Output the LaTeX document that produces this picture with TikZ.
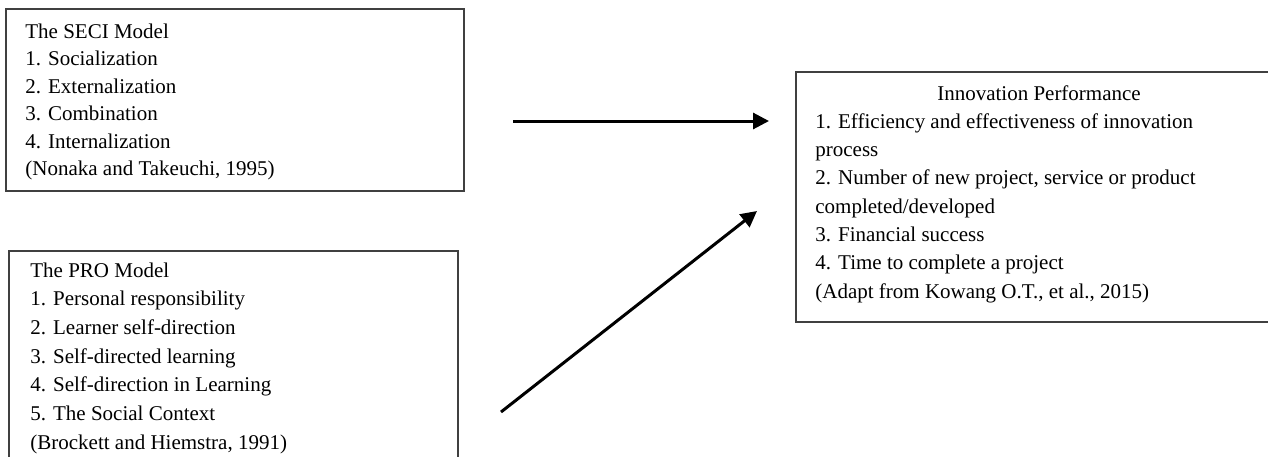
\documentclass[tikz,border=0pt]{standalone}
\usepackage{fontspec}
\setmainfont{Liberation Serif}
\usetikzlibrary{arrows.meta}

\begin{document}
\begin{tikzpicture}[x=0.5pt,y=-0.5pt,
  box/.style={draw=black!75,line width=0.9pt,anchor=north west,inner sep=0pt},
  item/.style={anchor=base west,inner sep=0pt},
  link/.style={line width=1.5pt,-{Triangle[length=8pt,width=8pt]}}]
\tikzstyle{every node}=[font=\fontsize{10.5}{14}\selectfont]
\useasboundingbox (0,0) rectangle (1268,456);
% boxes
\node[box,minimum width=229pt,minimum height=91pt] (seci) at (5,8) {};
\node[box,minimum width=224.5pt,minimum height=112pt] (pro) at (8,250) {};
\node[box,minimum width=244pt,minimum height=125pt] (perf) at (795,71) {};
% texts
\foreach \t [count=\i from 0] in {The SECI Model,1. Socialization,2. Externalization,
  3. Combination,4. Internalization,{(Nonaka and Takeuchi, 1995)}}
  \node[item] (seci\i) at (25,38+27.5*\i) {\t};
\foreach \t [count=\i from 0] in {The PRO Model,1. Personal responsibility,
  2. Learner self-direction,3. Self-directed learning,4. Self-direction in Learning,
  5. The Social Context,{(Brockett and Hiemstra, 1991)}}
  \node[item] (pro\i) at (30,277+28.7*\i) {\t};
\node[anchor=base,inner sep=0pt] (perf0) at (1039,100) {Innovation Performance};
\foreach \t [count=\i from 1] in {1. Efficiency and effectiveness of innovation,process,
  {2. Number of new project, service or product},completed/developed,
  3. Financial success,4. Time to complete a project,{(Adapt from Kowang O.T., et al., 2015)}}
  \node[item] (perf\i) at (815,100+28.3*\i) {\t};
% arrows
\coordinate (a) at (513,121);
\coordinate (b) at (769,121);
\coordinate (c) at (501,412);
\coordinate (d) at (757,211);
\draw[link] (a)--(b);
\draw[link] (c)--(d);
\end{tikzpicture}
\end{document}
